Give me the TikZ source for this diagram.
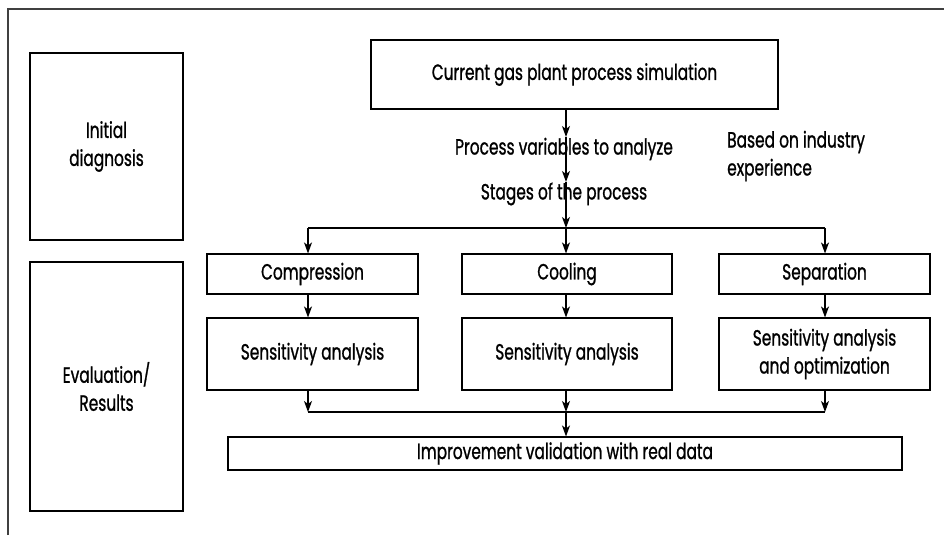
\documentclass[tikz,border=0pt]{standalone}
\usepackage{fontspec}
\setmainfont{Poppins}[FakeStretch=0.70,FakeBold=1.0]
\usetikzlibrary{arrows.meta}
\begin{document}
\begin{tikzpicture}[x=1pt,y=-1pt,
  font=\fontsize{22}{28}\selectfont,
  box/.style={draw,line width=1.1pt,inner sep=0pt,align=center},
  lbl/.style={inner sep=0pt,align=center},
  arr/.style={line width=1.1pt,-{Stealth[length=11pt,width=8pt,inset=3pt]}},
  ln/.style={line width=1.1pt},
  frame/.style={line width=1.6pt,draw=black!75}]
\useasboundingbox (0,0) rectangle (944,535);
% outer frame
\draw[frame] (8,535) -- (8,9) -- (944,9);
% side boxes
\node[box,minimum width=153pt,minimum height=187pt] (init) at (106.5,146.5) {Initial\\diagnosis};
\node[box,minimum width=153pt,minimum height=249pt] (eval) at (106.5,386.5) {Evaluation/\\Results};
% top box
\node[box,minimum width=407pt,minimum height=69pt] (gas) at (574.5,74.5) {Current gas plant process simulation};
\node[lbl] (pv) at (564,149) {Process variables to analyze};
\node[lbl] (st) at (564,194) {Stages of the process};
\node[lbl,align=left,anchor=west] (exp) at (727,156) {Based on industry\\experience};
% named points on the main line
\coordinate (t1) at (566,137);
\coordinate (t2) at (566,182);
\coordinate (br) at (566,228);
% stage boxes
\node[box,minimum width=211pt,minimum height=40pt] (comp) at (312.5,274) {Compression};
\node[box,minimum width=210pt,minimum height=40pt] (cool) at (567,274) {Cooling};
\node[box,minimum width=211pt,minimum height=40pt] (sep) at (824.5,274) {Separation};
\node[box,minimum width=211pt,minimum height=72pt] (s1) at (312.5,354) {Sensitivity analysis};
\node[box,minimum width=210pt,minimum height=72pt] (s2) at (567,354) {Sensitivity analysis};
\node[box,minimum width=211pt,minimum height=72pt] (s3) at (824.5,354) {Sensitivity analysis\\and optimization};
\node[box,minimum width=674pt,minimum height=33pt] (imp) at (565,453.5) {Improvement validation with real data};
% column x positions
\coordinate (c1) at (308,0);
\coordinate (c2) at (566,0);
\coordinate (c3) at (825,0);
\coordinate (jn) at (566,412);
% main line
\draw[arr] (gas.south -| br) -- (t1);
\draw[arr] (t1) -- (t2);
\draw[arr] (t2) -- (br);
\draw[ln] (br -| c1) -- (br -| c3);
\draw[arr] (br -| c1) -- (comp.north -| c1);
\draw[arr] (br) -- (cool.north -| c2);
\draw[arr] (br -| c3) -- (sep.north -| c3);
\draw[arr] (comp.south -| c1) -- (s1.north -| c1);
\draw[arr] (cool.south -| c2) -- (s2.north -| c2);
\draw[arr] (sep.south -| c3) -- (s3.north -| c3);
\draw[arr] (s1.south -| c1) -- (jn -| c1);
\draw[arr] (s2.south -| c2) -- (jn);
\draw[arr] (s3.south -| c3) -- (jn -| c3);
\draw[ln] (jn -| c1) -- (jn -| c3);
\draw[arr] (jn) -- (imp.north -| jn);
\end{tikzpicture}
\end{document}
